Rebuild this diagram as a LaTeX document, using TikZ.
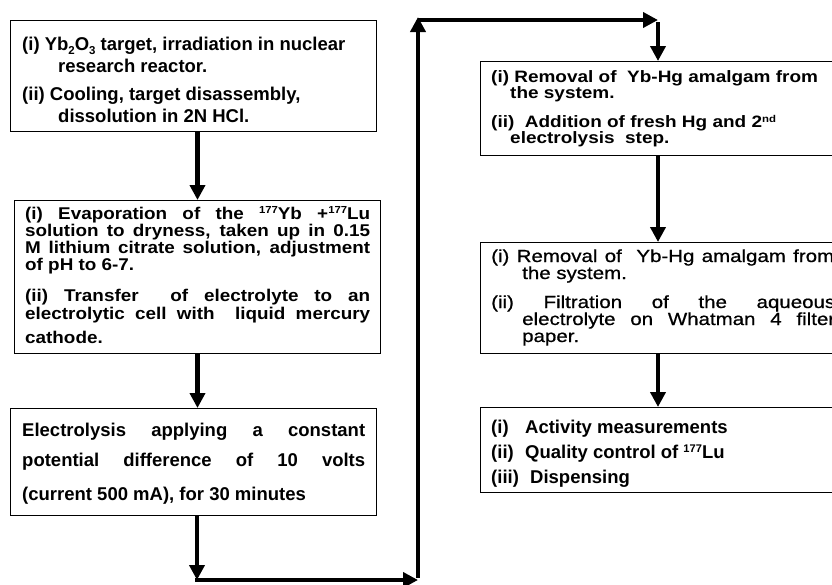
\documentclass[tikz,border=0pt]{standalone}
\usepackage{fontspec}
\usepackage{graphicx}
\setmainfont{Liberation Sans}
\newfontfamily\fwideA[FakeStretch=1.11]{Liberation Sans}
\newfontfamily\fwideB[FakeStretch=1.15]{Liberation Sans}
\newfontfamily\fwideC[FakeStretch=1.17,FakeBold=0.8]{Liberation Sans}
\usetikzlibrary{arrows.meta}
\newcommand{\fsz}[2]{\fontsize{#1}{#2}\selectfont\lineskiplimit=-60pt\relax}
\newcommand{\up}[1]{\raisebox{0.3em}{\scalebox{0.6}{#1}}}
\newcommand{\dn}[1]{\raisebox{-0.22em}{\scalebox{0.62}{#1}}}
\tikzset{
  box/.style={draw=black, line width=1pt, inner sep=0pt, anchor=north west},
  txt/.style={inner sep=0pt, anchor=base west},
  arr/.style={line width=4.3pt, -{Triangle[width=15pt,length=15pt]}}
}
\begin{document}
\begin{tikzpicture}[x=1pt,y=-1pt]
\useasboundingbox (0,0) rectangle (832,584);
\clip (0,0) rectangle (832,584);
% boxes
\node[box, minimum width=366pt, minimum height=111pt] (b1) at (10,20) {};
\node[box, minimum width=366pt, minimum height=153pt] (b2) at (14,200) {};
\node[box, minimum width=366pt, minimum height=107pt] (b3) at (10,408) {};
\node[box, minimum width=400pt, minimum height=94pt] (b4) at (480,61) {};
\node[box, minimum width=400pt, minimum height=111pt] (b5) at (480,242) {};
\node[box, minimum width=400pt, minimum height=85pt] (b6) at (480,407) {};
% texts
\node[txt] (t1) at (22,50) {\parbox[t]{360pt}{\fsz{18.5}{22}\bfseries
(i) Yb\dn{2}O\dn{3} target, irradiation in nuclear\\
\hspace*{36pt}research reactor.\\[6pt]
(ii) Cooling, target disassembly,\\
\hspace*{36pt}dissolution in 2N HCl.}};
\node[txt] (t2) at (25,219) {\parbox[t]{360pt}{\fwideA\fsz{17}{17.2}\bfseries
\makebox[345pt][s]{(i) Evaporation of the \up{177}Yb +\up{177}Lu}\\
\makebox[345pt][s]{solution to dryness, taken up in 0.15}\\
\makebox[345pt][s]{M lithium citrate solution, adjustment}\\
of pH to 6-7.\\[14pt]
\makebox[345pt][s]{(ii) Transfer \ of electrolyte to an}\\
\makebox[345pt][s]{electrolytic cell with \ liquid mercury}\\[7pt]
cathode.}};
\node[txt] (t3) at (22,436) {\parbox[t]{360pt}{\fsz{18.5}{30}\bfseries
\makebox[343pt][s]{Electrolysis applying a constant}\\
\makebox[343pt][s]{potential difference of 10 volts}\\[4pt]
(current 500 mA), for 30 minutes}};
\node[txt] (t4) at (491,82) {\parbox[t]{360pt}{\fwideB\fsz{16.5}{16}\bfseries
(i) Removal of \ Yb-Hg amalgam from\\
\hspace*{19pt}the system.\\[13pt]
(ii) \ Addition of fresh Hg and 2\up{nd}\\
\hspace*{19pt}electrolysis \ step.}};
\node[txt] (t5) at (491,262) {\parbox[t]{360pt}{\fwideC\fsz{17.5}{17}
\makebox[343pt][s]{(i) Removal of \ Yb-Hg amalgam from}\\
\hspace*{31pt}the system.\\[12pt]
\makebox[344pt][s]{(ii) Filtration of the aqueous}\\
\hspace*{31pt}\makebox[313pt][s]{electrolyte on Whatman 4 filter}\\
\hspace*{31pt}paper.}};
\node[txt] (t6) at (491,433) {\parbox[t]{360pt}{\fsz{18.5}{25}\bfseries
\makebox[34pt][l]{(i)}Activity measurements\\
\makebox[34pt][l]{(ii)}Quality control of \up{177}Lu\\
\makebox[39pt][l]{(iii)}Dispensing}};
% route coordinates
\coordinate (c1) at (197,580);
\coordinate (c2) at (418,580);
\coordinate (c3) at (418,17);
\coordinate (c4) at (658,20);
\coordinate (c3b) at (418,20);
% connectors
\draw[arr] (b1.south -| b2.north) -- (b2.north);
\draw[arr] (b2.south) -- (b2.south |- b3.north);
\draw[arr] (b3.south -| c1) -- (c1);
\draw[arr] ([xshift=-2pt]c1) -- (c2);
\draw[arr] ([yshift=2pt]c2) -- (c3);
\draw[arr] (c3b) -- (c4);
\draw[arr] ([yshift=-2pt]c4) -- (c4 |- b4.north);
\draw[arr] (b4.south -| c4) -- (b5.north -| c4);
\draw[arr] (b5.south -| c4) -- (b6.north -| c4);
\end{tikzpicture}
\end{document}
